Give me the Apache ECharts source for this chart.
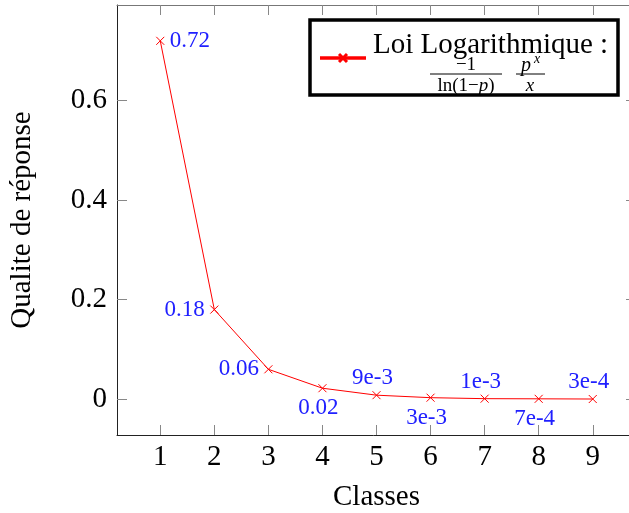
<!DOCTYPE html>
<html><head><meta charset="utf-8">
<script src="https://cdn.jsdelivr.net/npm/echarts@6/dist/echarts.min.js"></script>
<style>html,body{margin:0;padding:0;background:#fff}#c{width:629px;height:513px}</style>
</head><body><div id="c"></div>
<script>
const classes = [1, 2, 3, 4, 5, 6, 7, 8, 9];
const quality = [0.72, 0.18, 0.06, 0.022, 0.008, 0.003, 0.001, 0.0007, 0.0003];
const pointLabels = ['0.72', '0.18', '0.06', '0.02', '9e-3', '3e-3', '1e-3', '7e-4', '3e-4'];
const labelSides = ['right', 'left', 'left', 'bottom', 'top', 'bottom', 'top', 'bottom', 'top'];
const xTicks = [1, 2, 3, 4, 5, 6, 7, 8, 9];
const yTicks = [0, 0.2, 0.4, 0.6];

const FONT = '"Liberation Serif", "DejaVu Serif", serif';
const chart = echarts.init(document.getElementById('c'), null, {renderer: 'canvas'});
const data = classes.map((c, i) => {
  const side = labelSides[i];
  const vertical = side === 'top' || side === 'bottom';
  return {
    value: [c, quality[i]],
    label: {show: true, position: side, formatter: pointLabels[i],
      distance: side === 'top' ? 1 : (side === 'bottom' ? 4 : 5),
      offset: vertical ? [-4, 0] : [0, 0]}
  };
});
const mkX = (pos, show) => ({
  type: 'value', position: pos, min: 0.2, max: 9.8,
  axisLine: {show: true, onZero: false, lineStyle: {color: show ? '#222' : '#777', width: 1}},
  axisTick: {show: true, inside: true, length: 10, customValues: xTicks, lineStyle: {color: '#888'}},
  axisLabel: {show: show, customValues: xTicks, color: '#000', fontFamily: FONT, fontSize: 29, margin: 8},
  splitLine: {show: false},
  name: show ? 'Classes' : '', nameLocation: 'middle', nameGap: 48,
  nameTextStyle: {color: '#000', fontFamily: FONT, fontSize: 29}
});
const mkY = (pos, show) => ({
  type: 'value', position: pos, min: -0.072, max: 0.792,
  axisLine: {show: true, onZero: false, lineStyle: {color: '#222', width: 1}},
  axisTick: {show: true, inside: true, length: 10, customValues: yTicks, lineStyle: {color: '#888'}},
  axisLabel: {show: show, customValues: yTicks, color: '#000', fontFamily: FONT, fontSize: 29, margin: 10,
    formatter: v => String(Math.round(v * 10) / 10)},
  splitLine: {show: false},
  name: show ? 'Qualite de réponse' : '', nameLocation: 'middle', nameGap: 80,
  nameTextStyle: {color: '#000', fontFamily: FONT, fontSize: 29}
});
chart.setOption({
  animation: false,
  backgroundColor: '#fff',
  grid: {left: 117, top: 5, width: 519, height: 430, containLabel: false, outerBoundsMode: 'none'},
  xAxis: [mkX('bottom', true), mkX('top', false)],
  yAxis: [mkY('left', true), mkY('right', false)],
  series: [{
    type: 'line', xAxisIndex: 0, yAxisIndex: 0,
    data: data,
    symbol: 'path://M0,0L10,10M10,0L0,10', symbolSize: 8,
    lineStyle: {color: '#ff0000', width: 1},
    itemStyle: {color: '#ff0000', borderColor: '#ff0000', borderWidth: 1},
    label: {color: '#2020ff', fontFamily: FONT, fontSize: 23}
  }],
  graphic: [
    {type: 'rect', shape: {x: 310, y: 20, width: 308, height: 75}, style: {fill: '#fff', stroke: '#000', lineWidth: 3.5}, z: 100},
    {type: 'line', shape: {x1: 320, y1: 58, x2: 366, y2: 58}, style: {stroke: '#ff0000', lineWidth: 3.5}, z: 101},
    {type: 'line', shape: {x1: 339, y1: 54, x2: 347, y2: 62}, style: {stroke: '#ff0000', lineWidth: 3}, z: 101},
    {type: 'line', shape: {x1: 347, y1: 54, x2: 339, y2: 62}, style: {stroke: '#ff0000', lineWidth: 3}, z: 101},
    {type: 'text', x: 373, y: 45, style: {text: 'Loi Logarithmique :', font: '29px ' + FONT, fill: '#000', textVerticalAlign: 'middle'}, z: 101},
    {type: 'text', x: 466, y: 65, style: {text: '−1', font: '19px ' + FONT, fill: '#000', textAlign: 'center', textVerticalAlign: 'middle'}, z: 101},
    {type: 'line', shape: {x1: 430, y1: 74, x2: 502, y2: 74}, style: {stroke: '#000', lineWidth: 1}, z: 101},
    {type: 'text', x: 466, y: 86, style: {text: 'ln(1−{i|p})', font: '19px ' + FONT, fill: '#000', textAlign: 'center', textVerticalAlign: 'middle',
      rich: {i: {fontStyle: 'italic', fontFamily: FONT, fontSize: 19}}}, z: 101},
    {type: 'text', x: 526, y: 66, style: {text: 'p', font: 'italic 20px ' + FONT, fill: '#000', textAlign: 'center', textVerticalAlign: 'middle'}, z: 101},
    {type: 'text', x: 537, y: 59, style: {text: 'x', font: 'italic 14px ' + FONT, fill: '#000', textAlign: 'center', textVerticalAlign: 'middle'}, z: 101},
    {type: 'line', shape: {x1: 516, y1: 74, x2: 545, y2: 74}, style: {stroke: '#000', lineWidth: 1}, z: 101},
    {type: 'text', x: 530, y: 86, style: {text: 'x', font: 'italic 19px ' + FONT, fill: '#000', textAlign: 'center', textVerticalAlign: 'middle'}, z: 101}
  ]
});
</script></body></html>
